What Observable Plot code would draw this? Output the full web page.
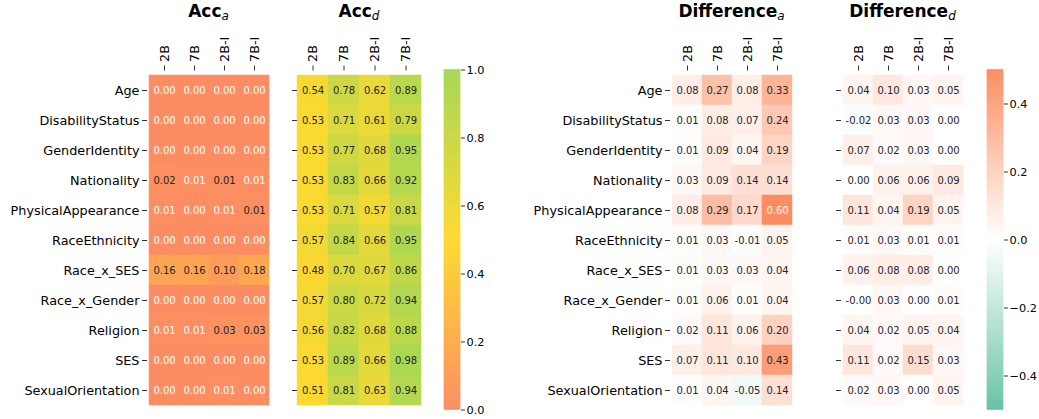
<!DOCTYPE html>
<html>
<head>
<meta charset="utf-8">
<script src="https://cdn.jsdelivr.net/npm/d3@7"></script>
<script src="https://cdn.jsdelivr.net/npm/@observablehq/plot@0.6"></script>
<style>
  html, body { margin: 0; padding: 0; background: #ffffff; }
  #chart { position: relative; width: 1039px; height: 419px; font-family: "DejaVu Sans", sans-serif; }
  #chart svg { position: absolute; top: 0; overflow: visible; }
  .title { position: absolute; top: 1px; text-align: center; font-weight: bold; font-size: 17px; color: #000; font-family: "DejaVu Sans", sans-serif; }
  .title sub { font-weight: normal; font-style: italic; font-size: 12px; vertical-align: -3px; }
</style>
</head>
<body>
<div id="chart"></div>
<script>
// ---------- data ----------
const rows = ["Age", "DisabilityStatus", "GenderIdentity", "Nationality", "PhysicalAppearance",
  "RaceEthnicity", "Race_x_SES", "Race_x_Gender", "Religion", "SES", "SexualOrientation"];
const cols = ["2B", "7B", "2B-I", "7B-I"];

const accA = [
  [0.00, 0.00, 0.00, 0.00],
  [0.00, 0.00, 0.00, 0.00],
  [0.00, 0.00, 0.00, 0.00],
  [0.02, 0.0055, 0.014, 0.0055],
  [0.0055, 0.00, 0.0055, 0.014],
  [0.00, 0.00, 0.00, 0.00],
  [0.16, 0.16, 0.10, 0.18],
  [0.00, 0.00, 0.00, 0.00],
  [0.0055, 0.0055, 0.03, 0.03],
  [0.00, 0.00, 0.00, 0.00],
  [0.00, 0.00, 0.0055, 0.00]
];
const accD = [
  [0.54, 0.78, 0.62, 0.89],
  [0.53, 0.71, 0.61, 0.79],
  [0.53, 0.77, 0.68, 0.95],
  [0.53, 0.83, 0.66, 0.92],
  [0.53, 0.71, 0.57, 0.81],
  [0.57, 0.84, 0.66, 0.95],
  [0.48, 0.70, 0.67, 0.86],
  [0.57, 0.80, 0.72, 0.94],
  [0.56, 0.82, 0.68, 0.88],
  [0.53, 0.89, 0.66, 0.98],
  [0.51, 0.81, 0.63, 0.94]
];
const diffA = [
  [0.08, 0.27, 0.08, 0.33],
  [0.01, 0.08, 0.07, 0.24],
  [0.01, 0.09, 0.04, 0.19],
  [0.03, 0.09, 0.14, 0.14],
  [0.08, 0.29, 0.17, 0.60],
  [0.01, 0.03, -0.01, 0.05],
  [0.01, 0.03, 0.03, 0.04],
  [0.01, 0.06, 0.01, 0.04],
  [0.02, 0.11, 0.06, 0.20],
  [0.07, 0.11, 0.10, 0.43],
  [0.01, 0.04, -0.05, 0.14]
];
const diffD = [
  [0.04, 0.10, 0.03, 0.05],
  [-0.02, 0.03, 0.03, 0.00],
  [0.07, 0.02, 0.03, 0.00],
  [0.00, 0.06, 0.06, 0.09],
  [0.11, 0.04, 0.19, 0.05],
  [0.01, 0.03, 0.01, 0.01],
  [0.06, 0.08, 0.08, 0.00],
  [-0.002, 0.03, 0.00, 0.01],
  [0.04, 0.02, 0.05, 0.04],
  [0.11, 0.02, 0.15, 0.03],
  [0.02, 0.03, 0.00, 0.05]
];

const accDomain = [0, 0.5, 1];
const accColors = ["#fc8d62", "#ffd92f", "#a6d854"];
const accTicks = [0, 0.2, 0.4, 0.6, 0.8, 1.0];
const diffDomain = [-0.5, 0, 0.5];
const diffColors = ["#66c2a5", "#ffffff", "#fc8d62"];
const diffTicks = [-0.4, -0.2, 0, 0.2, 0.4];

// ---------- helpers ----------
const H = 419, MT = 69.5, MB = 9.5;
const FONT = "DejaVu Sans, sans-serif";

function tidy(matrix) {
  const out = [];
  matrix.forEach((r, i) => r.forEach((v, j) => out.push({row: rows[i], col: cols[j], value: v})));
  return out;
}
function lum(c) {
  const rgb = d3.rgb(c);
  const f = (x) => { x /= 255; return x <= 0.03928 ? x / 12.92 : Math.pow((x + 0.055) / 1.055, 2.4); };
  return 0.2126 * f(rgb.r) + 0.7152 * f(rgb.g) + 0.0722 * f(rgb.b);
}
function colorOpts(domain, range) {
  return {type: "linear", domain, range, interpolate: "rgb", clamp: true};
}

function heatmap(matrix, domain, range, showLabels, left, width, ml, mr) {
  const data = tidy(matrix);
  const cs = d3.scaleLinear().domain(domain).range(range).interpolate(d3.interpolateRgb).clamp(true);
  const light = (d) => lum(cs(d.value)) > 0.4105;
  const fmt = (d) => d.value.toFixed(2);
  const svg = Plot.plot({
    width, height: H, marginTop: MT, marginBottom: MB, marginLeft: ml, marginRight: mr,
    style: {fontFamily: FONT, fontSize: "12.8px", color: "#000", background: "transparent"},
    x: {domain: cols, padding: 0, axis: null},
    y: {domain: rows, padding: 0, axis: null},
    color: colorOpts(domain, range),
    marks: [
      Plot.cell(data, {x: "col", y: "row", fill: "value", inset: 0, stroke: "value", strokeWidth: 0.5}),
      Plot.text(data, {filter: light, x: "col", y: "row", text: fmt, fill: "#262626", fontSize: 10}),
      Plot.text(data, {filter: (d) => !light(d), x: "col", y: "row", text: fmt, fill: "#ffffff", fontSize: 10}),
      Plot.axisX({anchor: "top", tickRotate: -90, tickSize: 5, tickPadding: 3, label: null, fontSize: 12.8, stroke: "#333"}),
      Plot.axisY({anchor: "left", tickSize: 5, tickPadding: 3, label: null, fontSize: 12.8, stroke: "#333",
        tickFormat: showLabels ? (d) => d : () => ""})
    ]
  });
  svg.style.left = left + "px";
  return svg;
}

function colorbar(domain, range, ticks, left, width, ml, mr) {
  const N = 200;
  const lo = domain[0], hi = domain[domain.length - 1];
  const step = (hi - lo) / N;
  const steps = d3.range(N).map((i) => lo + i * step);
  const svg = Plot.plot({
    width, height: H, marginTop: MT, marginBottom: MB, marginLeft: ml, marginRight: mr,
    style: {fontFamily: FONT, fontSize: "11.3px", color: "#000", background: "transparent"},
    x: {domain: [0, 1], axis: null},
    y: {domain: [lo, hi], axis: null},
    color: colorOpts(domain, range),
    marks: [
      Plot.rect(steps, {x1: 0, x2: 1, y1: (d) => d, y2: (d) => d + step,
        fill: (d) => d + step / 2, stroke: (d) => d + step / 2, strokeWidth: 0.6}),
      Plot.axisY({anchor: "right", ticks, tickFormat: d3.format(".1f"), tickSize: 4, tickPadding: 2,
        label: null, fontSize: 11.3, stroke: "#333"})
    ]
  });
  svg.style.left = left + "px";
  return svg;
}

function title(main, sub, center) {
  const d = document.createElement("div");
  d.className = "title";
  d.style.left = (center - 100) + "px";
  d.style.width = "200px";
  d.innerHTML = main + "<sub>" + sub + "</sub>";
  return d;
}

const chart = document.getElementById("chart");
chart.appendChild(heatmap(accA, accDomain, accColors, true, 0, 275, 147, 5));
chart.appendChild(heatmap(accD, accDomain, accColors, false, 278, 147, 19, 4));
chart.appendChild(colorbar(accDomain, accColors, accTicks, 430, 70, 14, 40));
chart.appendChild(heatmap(diffA, diffDomain, diffColors, true, 505, 292, 165, 4));
chart.appendChild(heatmap(diffD, diffDomain, diffColors, false, 820, 148, 21, 4));
chart.appendChild(colorbar(diffDomain, diffColors, diffTicks, 975, 64, 12, 36));

chart.appendChild(title("Acc", "a", 208.5));
chart.appendChild(title("Acc", "d", 359));
chart.appendChild(title("Difference", "a", 731.5));
chart.appendChild(title("Difference", "d", 902.5));
</script>
</body>
</html>
